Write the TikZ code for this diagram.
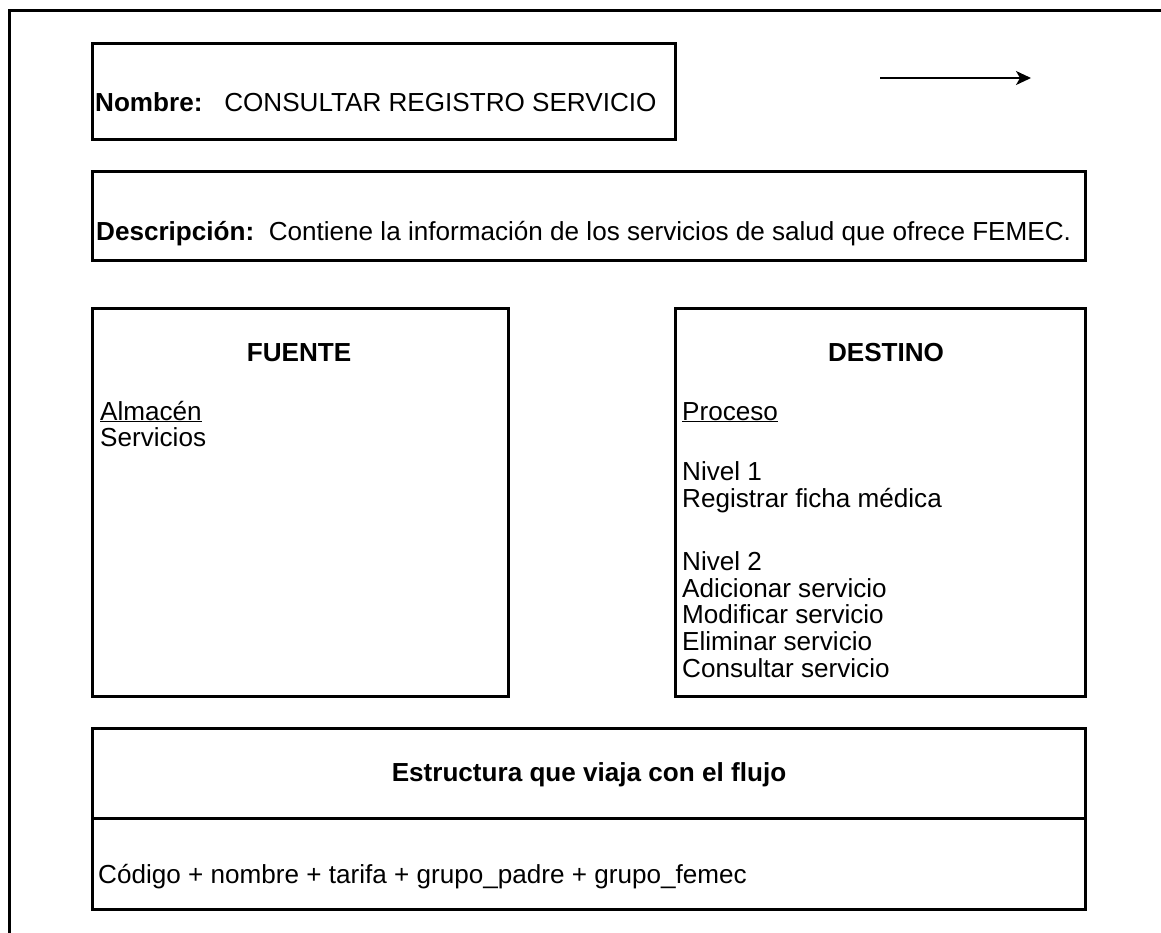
\documentclass[tikz,border=0pt]{standalone}
\usepackage{fontspec}
\setmainfont{Liberation Sans}
\usetikzlibrary{arrows.meta}
\begin{document}
\begin{tikzpicture}[x=1pt,y=-1pt,
  box/.style={draw=black, line width=2.8pt, rectangle, inner sep=0pt, anchor=north west},
  txt/.style={inner sep=0pt, anchor=base west, font=\fontsize{26.1}{26.7}\selectfont},
  ctxt/.style={inner sep=0pt, anchor=base, font=\fontsize{26.1}{26.7}\selectfont\bfseries},
  flecha/.style={line width=1.6pt, -{Stealth[length=15pt, width=14pt, inset=4pt]}}
]
\useasboundingbox (0,0) rectangle (1161,932);
% outer frame (partly visible)
\coordinate (fa) at (9.5,935);
\coordinate (fb) at (9.5,10.5);
\coordinate (fc) at (1165,10.5);
\draw[line width=2.8pt] (fa) -- (fb) -- (fc);

% boxes
\node[box, minimum width=583pt, minimum height=96pt] (nombre) at (91,42) {};
\node[box, minimum width=993pt, minimum height=89pt] (desc) at (91,170) {};
\node[box, minimum width=416pt, minimum height=388pt] (fuente) at (91,307) {};
\node[box, minimum width=410pt, minimum height=388pt] (destino) at (674,307) {};
\node[box, minimum width=993pt, minimum height=90pt] (esttop) at (91,727) {};
\node[box, minimum width=993pt, minimum height=91pt] (estbot) at (91,817) {};

% arrow
\coordinate (a1) at (880,78);
\coordinate (a2) at (1031,78);
\draw[flecha] (a1) -- (a2);

% texts
\node[txt] (tnombre) at (95,111) {\textbf{Nombre:}\ \ \ CONSULTAR REGISTRO SERVICIO};
\node[txt] (tdesc) at (96,240) {\textbf{Descripción:}\ \ Contiene la información de los servicios de salud que ofrece FEMEC.};
\node[ctxt] (tfuente) at (299,361) {FUENTE};
\node[txt] (talm) at (100,420) {\underline{Almacén}};
\node[txt] (tserv) at (100,446) {Servicios};
\node[ctxt] (tdestino) at (886,361) {DESTINO};
\node[txt] (tproc) at (682,420) {\underline{Proceso}};
\node[txt] (tn1) at (682,480) {Nivel 1};
\node[txt] (treg) at (682,507) {Registrar ficha médica};
\node[txt] (tn2) at (682,570) {Nivel 2};
\node[txt] (tadi) at (682,597) {Adicionar servicio};
\node[txt] (tmod) at (682,623) {Modificar servicio};
\node[txt] (telim) at (682,650) {Eliminar servicio};
\node[txt] (tcons) at (682,677) {Consultar servicio};
\node[ctxt] (test) at (589,781) {Estructura que viaja con el flujo};
\node[txt] (tcod) at (98,883) {Código + nombre + tarifa + grupo\_padre + grupo\_femec};
\end{tikzpicture}
\end{document}
